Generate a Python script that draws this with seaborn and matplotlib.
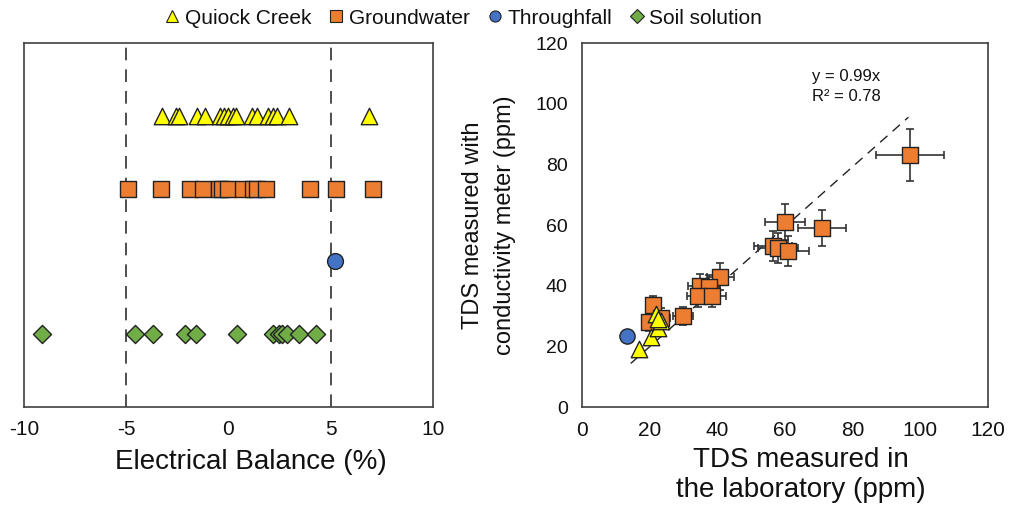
import numpy as np
import pandas as pd
import matplotlib
matplotlib.use("Agg")
import matplotlib.pyplot as plt
import seaborn as sns
from matplotlib.lines import Line2D

# electrical balance (%) per sample group
eb_creek = [-3.25, -2.55, -2.4, -1.55, -1.15, -0.4, -0.2, 0.0, 0.2, 0.35, 1.15, 1.4, 1.95, 2.2, 2.35, 2.95, 6.85]
eb_gw = [-4.9, -3.3, -1.9, -1.25, -0.45, -0.3, 0.0, 0.7, 1.2, 1.4, 1.85, 4.0, 5.25, 7.05]
eb_tf = [5.2]
eb_soil = [-9.1, -4.55, -3.7, -2.15, -1.6, 0.4, 2.2, 2.45, 2.6, 2.85, 3.45, 4.3]

# TDS lab vs meter (ppm)
gw_lab = [97, 60, 71, 56.5, 58, 61, 41, 35, 37.5, 34.5, 38.5, 30, 21, 20, 23.5]
gw_meter = [83, 61, 59, 53, 52.5, 51.5, 43, 40, 39.5, 36.5, 36.5, 30, 33.5, 28, 29.5]
gw_lab_err = [10, 6, 7, 5.5, 6, 6, 4, 3.5, 3.5, 3.5, 4, 3, 2, 2, 2.5]
gw_meter_err = [8.5, 6, 6, 5, 5, 5, 4.5, 4, 4, 3.5, 3.5, 3, 3, 3, 3]
creek_lab = [17, 20.5, 22.5, 22, 23.5, 22.5]
creek_meter = [19, 23, 26, 30.5, 28.5, 29]
tf_lab = [13.5]
tf_meter = [23.5]

slope = 0.99
r2 = 0.78
fit_x = np.array([14.5, 96.5])

groups = ["Quiock Creek", "Groundwater", "Throughfall", "Soil solution"]
colors = {"Quiock Creek": "#FFFF00", "Groundwater": "#ED7D31",
          "Throughfall": "#4472C4", "Soil solution": "#70AD47"}
markers = {"Quiock Creek": "^", "Groundwater": "s",
           "Throughfall": "o", "Soil solution": "D"}
rows = {"Quiock Creek": 4, "Groundwater": 3, "Throughfall": 2, "Soil solution": 1}

eb = pd.concat([
    pd.DataFrame({"eb": eb_creek, "group": "Quiock Creek"}),
    pd.DataFrame({"eb": eb_gw, "group": "Groundwater"}),
    pd.DataFrame({"eb": eb_tf, "group": "Throughfall"}),
    pd.DataFrame({"eb": eb_soil, "group": "Soil solution"}),
], ignore_index=True)
eb["row"] = eb["group"].map(rows)

sns.set_style("white")
plt.rcParams["font.family"] = ["Liberation Sans", "DejaVu Sans"]
plt.rcParams["axes.unicode_minus"] = False
plt.rcParams["text.color"] = "#111111"
plt.rcParams["axes.labelcolor"] = "#111111"
plt.rcParams["xtick.color"] = "#111111"
plt.rcParams["ytick.color"] = "#111111"

fig = plt.figure(figsize=(10.13, 5.15), dpi=100)
ax1 = fig.add_axes([0.0237, 0.2097, 0.4037, 0.7068])
ax2 = fig.add_axes([0.5742, 0.2097, 0.4011, 0.7068])

spine_c = "#404040"
edge = "#222222"

# left: electrical balance
for x in (-5, 5):
    ax1.axvline(x, color="#404040", lw=1.3, dashes=(7, 5), zorder=1)
sizes = {"Quiock Creek": 140, "Groundwater": 130, "Throughfall": 130, "Soil solution": 85}
for g in groups:
    d = eb[eb["group"] == g]
    sns.scatterplot(data=d, x="eb", y="row", ax=ax1, color=colors[g], marker=markers[g],
                    s=sizes[g], edgecolor=edge, linewidth=1.0, zorder=3, legend=False)
ax1.set_xlim(-10, 10)
ax1.set_ylim(0, 5)
ax1.set_xticks([-10, -5, 0, 5, 10])
ax1.set_yticks([])
ax1.set_ylabel("")
ax1.set_xlabel("Electrical Balance (%)", fontsize=20)
ax1.xaxis.set_label_coords(0.555, -0.115)
ax1.tick_params(axis="x", direction="inout", length=7, width=1, color=spine_c,
                labelcolor="#111111", labelsize=15, pad=6)

# right: TDS comparison
ax2.plot(fit_x, slope * fit_x, color=edge, lw=1, dashes=(7, 5), zorder=1)
ax2.errorbar(gw_lab, gw_meter, xerr=gw_lab_err, yerr=gw_meter_err, fmt="none",
             ecolor="#333333", elinewidth=1.2, capsize=3, capthick=1.2, zorder=2)
sns.scatterplot(x=gw_lab, y=gw_meter, ax=ax2, color=colors["Groundwater"], marker="s",
                s=130, edgecolor=edge, linewidth=1.0, zorder=3, legend=False)
sns.scatterplot(x=tf_lab, y=tf_meter, ax=ax2, color=colors["Throughfall"], marker="o",
                s=120, edgecolor=edge, linewidth=1.0, zorder=3, legend=False)
sns.scatterplot(x=creek_lab, y=creek_meter, ax=ax2, color=colors["Quiock Creek"], marker="^",
                s=140, edgecolor=edge, linewidth=1.0, zorder=4, legend=False)
ax2.text(68, 109, f"y = {slope}x", fontsize=12, ha="left", va="center")
ax2.text(68, 102.5, f"R² = {r2}", fontsize=12, ha="left", va="center")
ax2.set_xlim(0, 120)
ax2.set_ylim(0, 120)
ax2.set_xticks(range(0, 121, 20))
ax2.set_yticks(range(0, 121, 20))
ax2.set_xlabel("TDS measured in\nthe laboratory (ppm)", fontsize=20, linespacing=1.2)
ax2.xaxis.set_label_coords(0.54, -0.11)
ax2.set_ylabel("TDS measured with\nconductivity meter (ppm)", fontsize=17, labelpad=14, linespacing=1.6)
ax2.tick_params(direction="out", length=6, width=1, color=spine_c, labelcolor="#111111", labelsize=15, pad=4)
ax2.tick_params(axis="y", labelsize=14)

for ax in (ax1, ax2):
    for s in ax.spines.values():
        s.set_visible(True)
        s.set_color(spine_c)
        s.set_linewidth(1.2)

handles = [Line2D([], [], ls="none", marker=markers[g], color=colors[g], markeredgecolor=edge,
                  markeredgewidth=0.8, markersize=8 if g != "Soil solution" else 7) for g in groups]
fig.legend(handles, groups, loc="center", bbox_to_anchor=(0.456, 0.965), ncol=4, frameon=False,
           fontsize=15, handletextpad=0.1, columnspacing=0.7, handlelength=1.0)

fig.savefig("out.png", dpi=100)
